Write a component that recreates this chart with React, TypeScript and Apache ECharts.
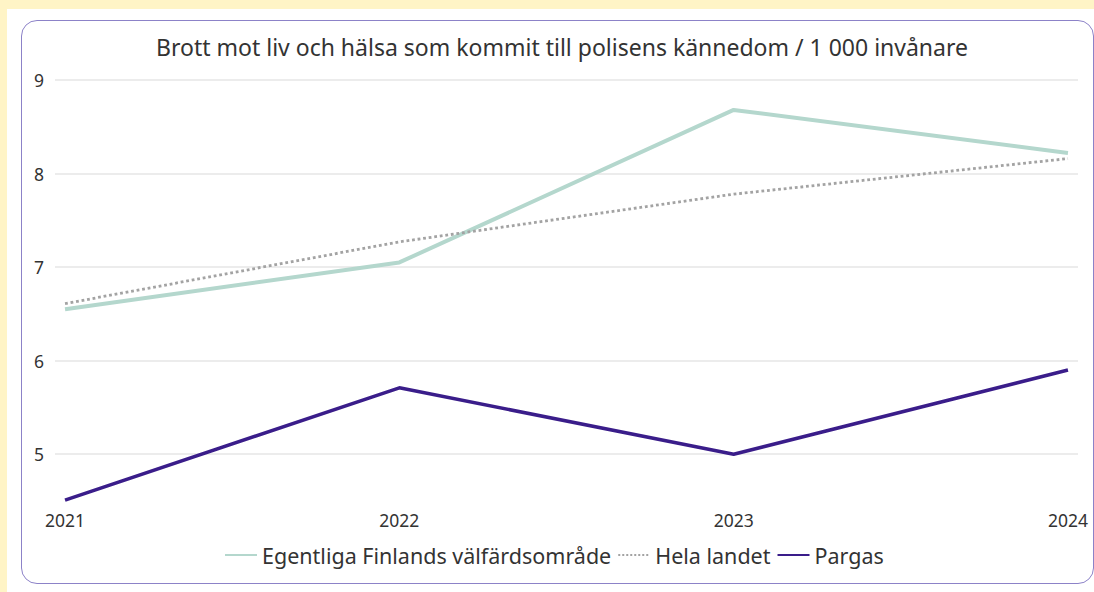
import React, { useEffect, useRef } from "react";
import * as echarts from "echarts";

const years = [2021, 2022, 2023, 2024];
const egentligaFinland = [6.55, 7.05, 8.68, 8.22];
const helaLandet = [6.61, 7.27, 7.78, 8.16];
const pargas = [4.51, 5.71, 5.0, 5.9];
const seriesNames = ["Egentliga Finlands välfärdsområde", "Hela landet", "Pargas"];
const titleText = "Brott mot liv och hälsa som kommit till polisens kännedom / 1 000 invånare";

const FONT = "'Noto Sans', sans-serif";

export default function App() {
  const ref = useRef<HTMLDivElement>(null);
  useEffect(() => {
    if (!ref.current) return;
    const chart = echarts.init(ref.current, undefined, { renderer: "svg" });
    const pair = (vals: number[]) => years.map((y, i) => [y, vals[i]]);
    chart.setOption({
      animation: false,
      textStyle: { fontFamily: FONT },
      title: {
        text: titleText,
        left: 557,
        textAlign: "center",
        top: 30,
        textStyle: { fontFamily: FONT, fontSize: 23, fontWeight: "normal", color: "#333333" },
      },
      legend: {
        bottom: 21,
        left: 219,
        itemWidth: 32,
        itemHeight: 10,
        itemGap: 6,
        itemStyle: { opacity: 0 },
        textStyle: { fontFamily: FONT, fontSize: 21.5, color: "#333333" },
        data: seriesNames,
      },
      grid: { left: 55, right: 16, top: 80, bottom: 91 },
      xAxis: {
        type: "value",
        min: 2020.97,
        max: 2024.03,
        axisLine: { show: false },
        axisTick: { show: false },
        splitLine: { show: false },
        axisLabel: {
          customValues: years,
          margin: 10,
          fontFamily: FONT,
          fontSize: 17.5,
          color: "#333333",
          formatter: (v: number) => String(Math.round(v)),
        },
      },
      yAxis: {
        type: "value",
        min: 4.5,
        max: 9,
        interval: 0.5,
        axisLine: { show: false },
        axisTick: { show: false },
        axisLabel: {
          margin: 11,
          fontFamily: FONT,
          fontSize: 17.5,
          color: "#333333",
          formatter: (v: number) => (Math.abs(v - Math.round(v)) < 1e-6 ? String(Math.round(v)) : ""),
        },
        splitLine: {
          show: true,
          lineStyle: { color: ["rgba(0,0,0,0)", "#E6E6E6"], width: 1.5 },
        },
      },
      series: [
        {
          name: seriesNames[0],
          type: "line",
          data: pair(egentligaFinland),
          symbol: "none",
          lineStyle: { color: "#B4D7CD", width: 4 },
          itemStyle: { color: "#B4D7CD" },
          z: 2,
        },
        {
          name: seriesNames[1],
          type: "line",
          data: pair(helaLandet),
          symbol: "none",
          lineStyle: { color: "#A3A3A3", width: 2.8, type: "dotted" },
          itemStyle: { color: "#A3A3A3" },
          z: 3,
        },
        {
          name: seriesNames[2],
          type: "line",
          data: pair(pargas),
          symbol: "none",
          lineStyle: { color: "#3A1D8A", width: 3.5 },
          itemStyle: { color: "#3A1D8A" },
          z: 4,
        },
      ],
    });
    return () => chart.dispose();
  }, []);

  return (
    <div style={{ position: "fixed", left: 0, top: 0, width: 1094, height: 592, background: "#FFF4C6", overflow: "hidden" }}>
      <div style={{ position: "absolute", left: 7, top: 9, width: 1100, height: 600, background: "#FFFFFF" }} />
      <div
        style={{
          position: "absolute",
          left: 21,
          top: 20,
          width: 1071,
          height: 562,
          border: "1.5px solid #8C82C8",
          borderRadius: 16,
          boxSizing: "content-box",
        }}
      />
      <div ref={ref} style={{ position: "absolute", left: 0, top: 0, width: 1094, height: 592 }} />
    </div>
  );
}
